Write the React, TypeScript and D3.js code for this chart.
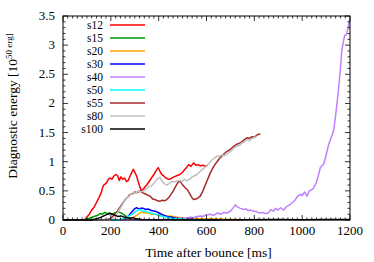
import React from "react";
import * as d3 from "d3";

type Pt = [number, number];

// curves: [time ms, energy 1e50 erg]
const s12: Pt[] = [[0,0],[90,0],[100,0.05],[110,0.1],[120,0.17],[130,0.22],[140,0.3],[150,0.38],[160,0.47],[165,0.55],[170,0.6],[180,0.63],[190,0.7],[196,0.72],[205,0.7],[212,0.75],[220,0.78],[228,0.76],[235,0.68],[242,0.74],[250,0.7],[258,0.72],[265,0.66],[273,0.68],[280,0.75],[288,0.82],[294,0.87],[300,0.82],[308,0.75],[315,0.65],[322,0.56],[329,0.5],[336,0.53],[343,0.57],[350,0.6],[360,0.66],[370,0.72],[380,0.78],[390,0.85],[398,0.9],[405,0.84],[413,0.78],[420,0.76],[430,0.72],[440,0.7],[447,0.7],[455,0.72],[465,0.74],[475,0.76],[489,0.78],[500,0.82],[510,0.87],[517,0.9],[525,0.95],[535,0.92],[546,0.98],[556,0.94],[566,0.95],[574,0.93],[585,0.94],[595,0.92],[605,0.94]];
const s15: Pt[] = [[0,0],[70,0],[90,0.01],[110,0.03],[130,0.06],[145,0.08],[155,0.11],[165,0.1],[175,0.13],[185,0.11],[195,0.12],[205,0.1],[215,0.12],[228,0.14],[238,0.13],[248,0.11],[258,0.08],[268,0.05],[280,0.02],[295,0.01],[330,0]];
const s20: Pt[] = [[0,0],[250,0],[270,0.02],[290,0.04],[300,0.06],[308,0.08],[318,0.11],[329,0.14],[338,0.12],[348,0.13],[357,0.12],[370,0.1],[385,0.1],[406,0.09],[420,0.08],[440,0.07],[462,0.06],[490,0.04],[518,0.03],[560,0.02],[620,0.02],[700,0.01],[760,0]];
const s30: Pt[] = [[0,0],[220,0],[240,0.01],[255,0.02],[266,0.04],[276,0.08],[286,0.13],[295,0.17],[302,0.2],[308,0.21],[316,0.19],[326,0.2],[336,0.2],[346,0.18],[356,0.19],[364,0.17],[374,0.16],[384,0.15],[392,0.14],[402,0.12],[412,0.1],[420,0.08],[435,0.06],[450,0.05],[476,0.03],[500,0.02],[550,0.01],[650,0]];
const s40: Pt[] = [[0,0],[380,0],[420,0.01],[450,0.02],[480,0.02],[500,0.03],[518,0.03],[530,0.05],[545,0.04],[560,0.06],[574,0.07],[585,0.06],[600,0.09],[616,0.1],[630,0.08],[645,0.12],[660,0.1],[672,0.13],[685,0.12],[700,0.15],[710,0.2],[721,0.26],[730,0.22],[742,0.2],[755,0.18],[765,0.19],[775,0.16],[786,0.17],[797,0.15],[810,0.14],[822,0.12],[835,0.13],[845,0.11],[853,0.11],[862,0.14],[870,0.18],[880,0.15],[888,0.2],[898,0.17],[910,0.21],[923,0.17],[935,0.23],[950,0.27],[960,0.3],[970,0.34],[980,0.4],[992,0.44],[1000,0.42],[1010,0.48],[1020,0.41],[1030,0.5],[1040,0.52],[1048,0.55],[1058,0.63],[1067,0.75],[1076,0.9],[1083,0.93],[1090,0.96],[1098,1.08],[1105,1.2],[1111,1.3],[1120,1.4],[1132,1.54],[1140,1.8],[1147,2.05],[1153,2.29],[1160,2.6],[1166,2.92],[1172,3.05],[1178,3.17],[1185,3.18],[1192,3.3],[1198,3.43]];
const s50: Pt[] = [[0,0],[230,0],[250,0.02],[265,0.04],[280,0.08],[294,0.11],[305,0.15],[315,0.17],[322,0.18],[332,0.16],[342,0.15],[350,0.14],[362,0.13],[375,0.11],[392,0.09],[410,0.07],[430,0.05],[448,0.03],[480,0.02],[520,0.01],[600,0]];
const s55: Pt[] = [[0,0],[180,0],[195,0.02],[205,0.05],[215,0.09],[224,0.13],[235,0.2],[245,0.26],[252,0.3],[262,0.36],[272,0.4],[280,0.44],[290,0.45],[300,0.48],[310,0.47],[322,0.5],[332,0.47],[342,0.45],[352,0.43],[364,0.41],[375,0.36],[385,0.35],[395,0.33],[405,0.32],[415,0.34],[425,0.33],[434,0.35],[445,0.4],[455,0.46],[461,0.5],[470,0.57],[480,0.64],[489,0.67],[497,0.62],[505,0.58],[512,0.55],[520,0.52],[530,0.45],[540,0.38],[546,0.35],[556,0.36],[565,0.38],[574,0.41],[585,0.5],[595,0.6],[602,0.67],[615,0.8],[625,0.88],[635,0.95],[644,1.0],[655,1.06],[665,1.1],[675,1.14],[686,1.18],[697,1.2],[707,1.24],[717,1.27],[727,1.3],[738,1.32],[748,1.34],[758,1.38],[769,1.41],[780,1.4],[790,1.43],[800,1.42],[812,1.46],[825,1.48]];
const s80: Pt[] = [[0,0],[200,0],[210,0.03],[220,0.08],[232,0.15],[245,0.24],[256,0.32],[266,0.38],[275,0.4],[285,0.45],[294,0.47],[305,0.46],[315,0.5],[325,0.48],[336,0.5],[346,0.53],[357,0.57],[368,0.58],[378,0.62],[390,0.68],[398,0.72],[405,0.73],[415,0.66],[425,0.62],[434,0.6],[445,0.63],[455,0.66],[465,0.65],[475,0.67],[485,0.68],[497,0.66],[507,0.7],[518,0.67],[530,0.7],[540,0.74],[550,0.76],[560,0.78],[570,0.82],[580,0.86],[590,0.89],[602,0.93],[612,0.98],[622,1.03],[633,1.06],[644,1.1],[655,1.09],[665,1.12],[675,1.1],[686,1.13],[697,1.17],[707,1.2],[717,1.24],[727,1.27],[738,1.28],[748,1.32],[758,1.34],[769,1.38],[780,1.36],[790,1.4],[800,1.41],[811,1.44]];
const s100: Pt[] = [[0,0],[120,0],[140,0.02],[160,0.05],[175,0.08],[188,0.1],[196,0.11],[206,0.1],[218,0.08],[230,0.06],[242,0.07],[255,0.05],[268,0.04],[280,0.03],[292,0.04],[305,0.02],[330,0.01],[400,0.005],[600,0],[900,0.01],[1000,0.005],[1100,0.01],[1200,0.01]];

const seriesNames = ["s12", "s15", "s20", "s30", "s40", "s50", "s55", "s80", "s100"];
const seriesData = [s12, s15, s20, s30, s40, s50, s55, s80, s100];
const seriesColors = ["#ff0000", "#009900", "#ffa500", "#0000ff", "#bf80ff", "#00ffff", "#a52a2a", "#c0c0c0", "#000000"];

const xTicks = [0, 200, 400, 600, 800, 1000, 1200];
const yTicks = [0, 0.5, 1, 1.5, 2, 2.5, 3, 3.5];

const W = 374, H = 262;
const L = 63, R = 350, T = 16, B = 220;
const font = '"Liberation Serif"';

export default function App() {
  const x = d3.scaleLinear().domain([0, 1200]).range([L, R]);
  const y = d3.scaleLinear().domain([0, 3.5]).range([B, T]);
  const line = d3.line<Pt>().x((d) => x(d[0])).y((d) => y(d[1]));

  const xMinor = d3.range(0, 1201, 20);
  const yMinor = d3.range(0, 3.51, 0.1);

  return (
    <svg width={W} height={H} style={{ position: "absolute", left: 0, top: 0, background: "#fff", fontFamily: font }}>
      {/* curves */}
      <g fill="none" strokeWidth={1.5} strokeLinejoin="round">
        {seriesData.map((d, i) => (
          <path key={seriesNames[i]} d={line(d) || ""} stroke={seriesColors[i]} />
        ))}
      </g>

      {/* ticks, inward on all sides */}
      <g stroke="#000" strokeWidth={0.8}>
        {xMinor.map((t) => {
          const major = t % 200 === 0;
          const len = major ? 5 : 2.5;
          return (
            <g key={"xt" + t}>
              <line x1={x(t)} x2={x(t)} y1={B} y2={B - len} />
              <line x1={x(t)} x2={x(t)} y1={T} y2={T + len} />
            </g>
          );
        })}
        {yMinor.map((v, i) => {
          const major = i % 5 === 0;
          const len = major ? 5 : 2.5;
          return (
            <g key={"yt" + i}>
              <line x1={L} x2={L + len} y1={y(v)} y2={y(v)} />
              <line x1={R} x2={R - len} y1={y(v)} y2={y(v)} />
            </g>
          );
        })}
      </g>
      <rect x={L} y={T} width={R - L} height={B - T} fill="none" stroke="#000" strokeWidth={1} />

      {/* tick labels */}
      <g fontSize={13} fill="#000" style={{ fontFamily: font }}>
        {xTicks.map((t) => (
          <text key={"xl" + t} x={x(t)} y={B + 15} textAnchor="middle">{t}</text>
        ))}
        {yTicks.map((v) => (
          <text key={"yl" + v} x={L - 8} y={y(v) + 4} textAnchor="end">{v}</text>
        ))}
      </g>

      {/* axis titles */}
      <text x={(L + R) / 2 + 2} y={257} textAnchor="middle" fontSize={13.5} style={{ fontFamily: font }}>Time after bounce [ms]</text>
      <text transform={`translate(17,106) rotate(-90)`} textAnchor="middle" fontSize={13.5} style={{ fontFamily: font }}>
        Diagnostic energy [10<tspan fontSize={9} dy={-5}>50 erg]</tspan>
      </text>

      {/* legend */}
      <g fontSize={11.5} style={{ fontFamily: font }}>
        {seriesNames.map((n, i) => {
          const ly = 25 + i * 13;
          return (
            <g key={"lg" + n}>
              <text x={103} y={ly + 4} textAnchor="end">{n}</text>
              <line x1={110} x2={145} y1={ly} y2={ly} stroke={seriesColors[i]} strokeWidth={1.5} />
            </g>
          );
        })}
      </g>
    </svg>
  );
}
